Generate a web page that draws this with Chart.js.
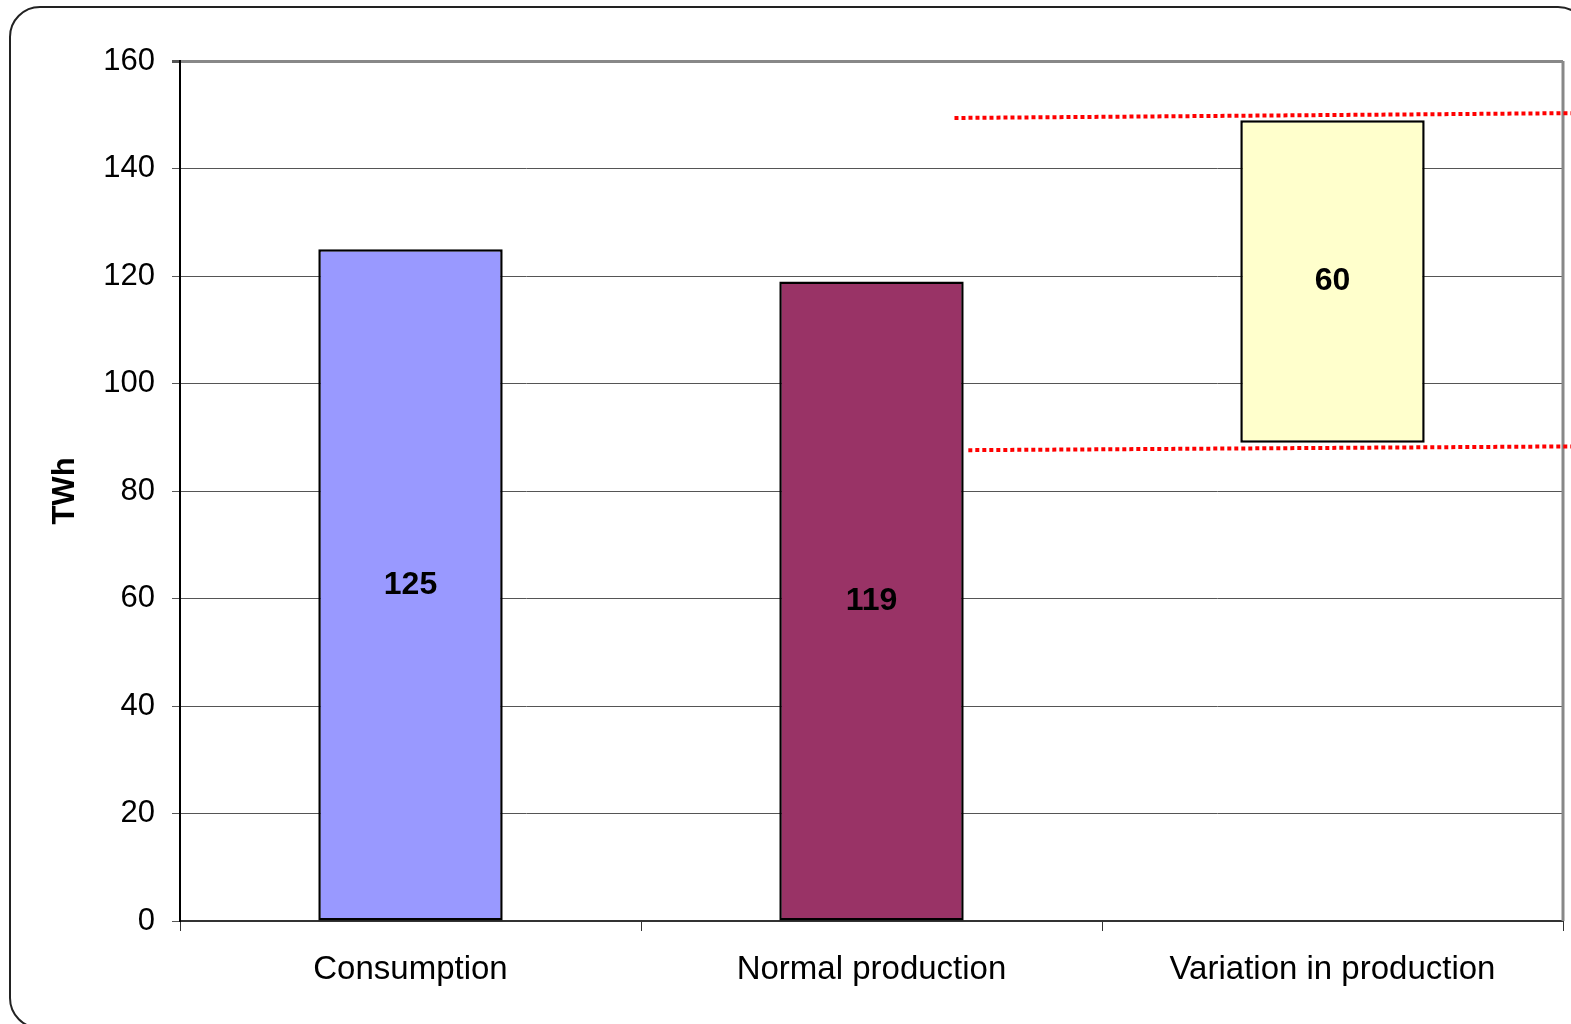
<!DOCTYPE html>
<html lang="en">
<head>
    <meta charset="UTF-8">
    <title>TWh - consumption and production</title>
    <script src="https://cdn.jsdelivr.net/npm/chart.js"></script>
    <style>
        html, body { margin: 0; padding: 0; background: #fff; }
        canvas { display: block; }
    </style>
</head>
<body>
    <canvas id="myChart" width="1571" height="1024"></canvas>
    <script>
        // Chart values
        const categories = ['Consumption', 'Normal production', 'Variation in production'];
        const barValues = [125, 119, [89, 149]];   // last bar floats between min and max
        const barColors = ['#9999FF', '#993366', '#FFFFCC'];
        const yTicks = [0, 20, 40, 60, 80, 100, 120, 140, 160];

        // red dotted guide lines (x in category units, -0.5 .. 2.5)
        const upperLine = [{ x: 1.18, y: 149.4 }, { x: 2.52, y: 150.3 }];
        const lowerLine = [{ x: 1.21, y: 87.6 }, { x: 2.52, y: 88.3 }];

        const FONT = '"Liberation Sans", Arial, sans-serif';

        // label shown in the middle of each bar
        function barLabel(v) {
            return Array.isArray(v) ? String(v[1] - v[0]) : String(v);
        }

        const framePlugin = {
            id: 'frame',
            beforeDraw(chart) {
                const c = chart.ctx;
                c.save();
                c.fillStyle = '#fff';
                c.fillRect(0, 0, chart.width, chart.height);
                c.strokeStyle = '#222';
                c.lineWidth = 2;
                c.beginPath();
                c.roundRect(10, 7, 1578, 1021, 30);
                c.stroke();
                c.restore();
            },
            beforeDatasetsDraw(chart) {
                // grey plot frame on the right
                const a = chart.chartArea;
                const c = chart.ctx;
                c.save();
                c.strokeStyle = '#888';
                c.lineWidth = 3;
                c.beginPath();
                c.moveTo(a.right, a.top);
                c.lineTo(a.right, a.bottom);
                c.stroke();
                c.restore();
            },
            afterDatasetsDraw(chart) {
                const c = chart.ctx;
                const meta = chart.getDatasetMeta(0);
                c.save();
                c.font = 'bold 32px ' + FONT;
                c.fillStyle = '#000';
                c.textAlign = 'center';
                c.textBaseline = 'middle';
                meta.data.forEach((bar, i) => {
                    const p = bar.getCenterPoint();
                    c.fillText(barLabel(barValues[i]), p.x, p.y);
                });
                c.restore();
            }
        };

        const dotted = {
            type: 'line',
            xAxisID: 'xl',
            borderColor: '#FF0000',
            borderWidth: 4,
            borderDash: [4, 3],
            pointRadius: 0,
            fill: false,
            clip: false,
            order: 0
        };

        new Chart(document.getElementById('myChart'), {
            type: 'bar',
            data: {
                labels: categories,
                datasets: [
                    {
                        data: barValues,
                        backgroundColor: barColors,
                        borderColor: '#000',
                        borderWidth: 2.5,
                        borderSkipped: false,
                        grouped: false,
                        barPercentage: 0.4,
                        categoryPercentage: 1,
                        order: 1
                    },
                    Object.assign({ data: upperLine }, dotted),
                    Object.assign({ data: lowerLine }, dotted)
                ]
            },
            options: {
                responsive: false,
                animation: false,
                layout: { padding: { top: 61, right: 8, left: 0, bottom: 0 } },
                plugins: {
                    legend: { display: false },
                    tooltip: { enabled: false }
                },
                scales: {
                    x: {
                        offset: true,
                        grid: {
                            offset: true,
                            drawOnChartArea: false,
                            drawTicks: true,
                            tickLength: 10,
                            color: '#333'
                        },
                        border: { color: '#333', width: 2 },
                        ticks: {
                            color: '#000',
                            padding: 19,
                            maxRotation: 0,
                            font: { family: FONT, size: 33 }
                        },
                        afterFit(scale) { scale.height = 103; }
                    },
                    xl: {
                        type: 'linear',
                        display: false,
                        offset: false,
                        grid: { offset: false },
                        min: -0.5,
                        max: 2.5
                    },
                    y: {
                        min: 0,
                        max: 160,
                        afterBuildTicks(scale) {
                            scale.ticks = yTicks.map(v => ({ value: v }));
                        },
                        grid: {
                            color: ctx => ctx.tick && ctx.tick.value === 160 ? '#888' : '#555',
                            lineWidth: ctx => ctx.tick && ctx.tick.value === 160 ? 3 : 1,
                            tickColor: '#555',
                            tickLength: 8
                        },
                        border: { color: '#000', width: 2 },
                        ticks: {
                            color: '#000',
                            padding: 17,
                            font: { family: FONT, size: 31 }
                        },
                        title: {
                            display: true,
                            text: 'TWh',
                            color: '#000',
                            padding: { top: 47, bottom: 0 },
                            font: { family: FONT, size: 31, weight: 'bold' }
                        },
                        afterFit(scale) { scale.width = 180; }
                    }
                }
            },
            plugins: [framePlugin]
        });
    </script>
</body>
</html>
